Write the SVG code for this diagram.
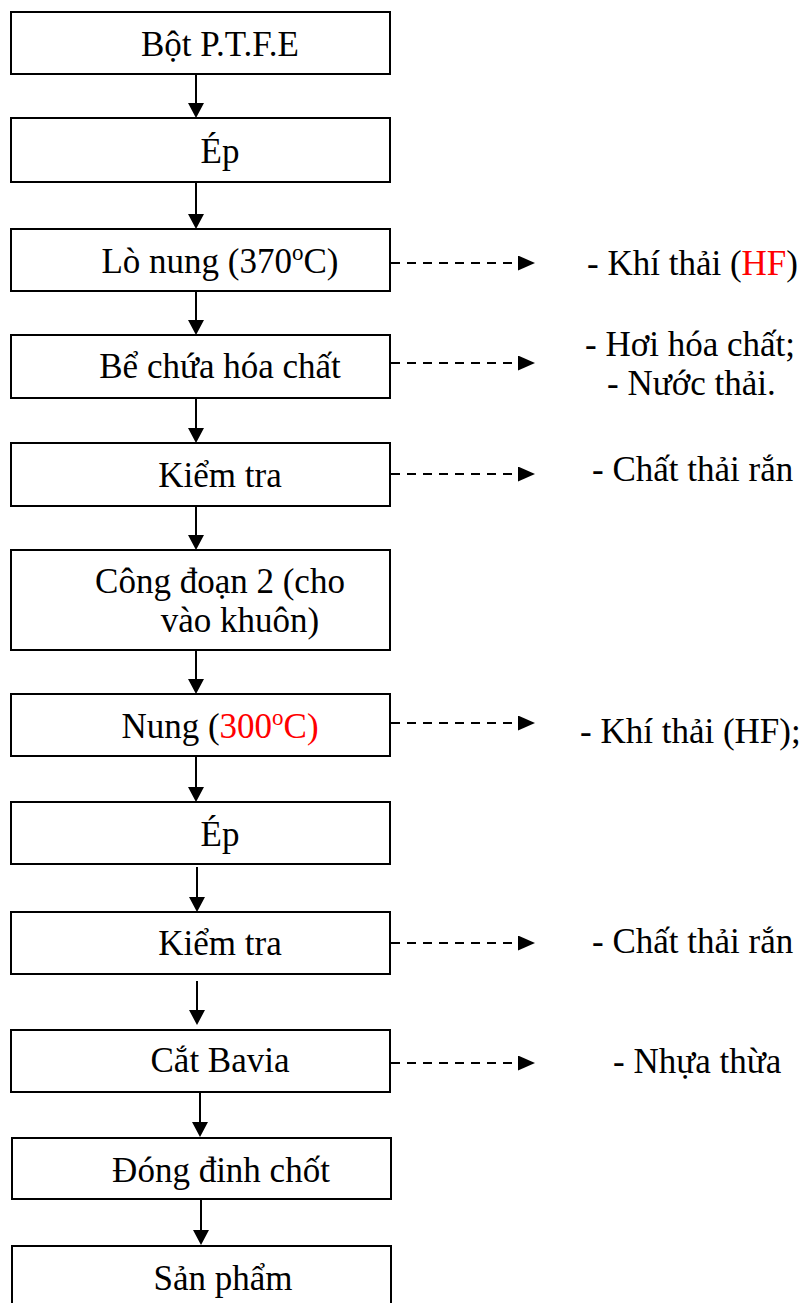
<svg xmlns="http://www.w3.org/2000/svg" width="805" height="1303" viewBox="0 0 805 1303">
  <style>
    .box { fill: #ffffff; stroke: #000000; stroke-width: 2; }
    .lbl { font-family: "Liberation Serif", "Times New Roman", serif; font-size: 35px; fill: #000000; }
    .mid { text-anchor: middle; }
    .red { fill: #ff0000; }
    .flow { stroke: #000000; stroke-width: 2; fill: none; marker-end: url(#headSolid); }
    .waste { stroke: #000000; stroke-width: 2; fill: none; stroke-dasharray: 9 7; marker-end: url(#headSmall); }
  </style>
  <defs>
    <marker id="headSolid" markerUnits="userSpaceOnUse" viewBox="0 0 15 16" markerWidth="15" markerHeight="16" refX="12" refY="8" orient="auto">
      <path d="M0,0 L15,8 L0,16 Z" fill="#000000"/>
    </marker>
    <marker id="headSmall" markerUnits="userSpaceOnUse" viewBox="0 0 17 15" markerWidth="17" markerHeight="15" refX="14" refY="7.5" orient="auto">
      <path d="M0,0 L17,7.5 L0,15 Z" fill="#000000"/>
    </marker>
  </defs>

  <rect width="805" height="1303" fill="#ffffff"/>

  <!-- process steps -->
  <g id="n-bot-ptfe">
    <rect class="box" x="11" y="12" width="379" height="62"/>
    <text class="lbl mid" x="220" y="56">Bột P.T.F.E</text>
  </g>
  <g id="n-ep-1">
    <rect class="box" x="11" y="118" width="379" height="64"/>
    <text class="lbl mid" x="220" y="163">Ép</text>
  </g>
  <g id="n-lo-nung">
    <rect class="box" x="11" y="229" width="379" height="62"/>
    <text class="lbl mid" x="220" y="273">Lò nung (370<tspan font-size="23" dy="-13">o</tspan><tspan dy="13">C)</tspan></text>
  </g>
  <g id="n-be-chua">
    <rect class="box" x="11" y="335" width="379" height="63"/>
    <text class="lbl mid" x="220" y="378">Bể chứa hóa chất</text>
  </g>
  <g id="n-kiem-tra-1">
    <rect class="box" x="11" y="443" width="379" height="63"/>
    <text class="lbl mid" x="220" y="487">Kiểm tra</text>
  </g>
  <g id="n-cong-doan-2">
    <rect class="box" x="11" y="550" width="379" height="100"/>
    <text class="lbl mid" x="220" y="593">Công đoạn 2 (cho</text>
    <text class="lbl mid" x="240" y="632">vào khuôn)</text>
  </g>
  <g id="n-nung">
    <rect class="box" x="11" y="694" width="379" height="62"/>
    <text class="lbl mid" x="220" y="738">Nung (<tspan class="red">300<tspan font-size="23" dy="-13">o</tspan><tspan dy="13">C)</tspan></tspan></text>
  </g>
  <g id="n-ep-2">
    <rect class="box" x="11" y="802" width="379" height="62"/>
    <text class="lbl mid" x="220" y="846">Ép</text>
  </g>
  <g id="n-kiem-tra-2">
    <rect class="box" x="11" y="912" width="379" height="62"/>
    <text class="lbl mid" x="220" y="955">Kiểm tra</text>
  </g>
  <g id="n-cat-bavia">
    <rect class="box" x="11" y="1030" width="379" height="62"/>
    <text class="lbl mid" x="220" y="1072">Cắt Bavia</text>
  </g>
  <g id="n-dong-dinh">
    <rect class="box" x="12" y="1138" width="379" height="61"/>
    <text class="lbl mid" x="221" y="1182">Đóng đinh chốt</text>
  </g>
  <g id="n-san-pham">
    <rect class="box" x="12" y="1246" width="379" height="70"/>
    <text class="lbl mid" x="223" y="1290">Sản phẩm</text>
  </g>

  <!-- waste outputs -->
  <g id="w-khi-thai-1">
    <text class="lbl" x="587" y="275">- Khí thải (<tspan class="red">HF</tspan>)</text>
  </g>
  <g id="w-hoi-hoa-chat">
    <text class="lbl" x="585" y="356">- Hơi hóa chất;</text>
    <text class="lbl" x="607" y="395">- Nước thải.</text>
  </g>
  <g id="w-chat-thai-ran-1">
    <text class="lbl" x="592" y="481">- Chất thải rắn</text>
  </g>
  <g id="w-khi-thai-2">
    <text class="lbl" x="580" y="743">- Khí thải (HF);</text>
  </g>
  <g id="w-chat-thai-ran-2">
    <text class="lbl" x="592" y="953">- Chất thải rắn</text>
  </g>
  <g id="w-nhua-thua">
    <text class="lbl" x="613" y="1073">- Nhựa thừa</text>
  </g>

  <!-- connectors -->
  <g id="connectors">
    <line class="flow" x1="196" y1="74" x2="196" y2="115"/>
    <line class="flow" x1="196" y1="182" x2="196" y2="226"/>
    <line class="flow" x1="196" y1="291" x2="196" y2="332"/>
    <line class="flow" x1="196" y1="398" x2="196" y2="440"/>
    <line class="flow" x1="196" y1="506" x2="196" y2="547"/>
    <line class="flow" x1="196" y1="650" x2="196" y2="691"/>
    <line class="flow" x1="196" y1="756" x2="196" y2="799"/>
    <line class="flow" x1="197" y1="867" x2="197" y2="909"/>
    <line class="flow" x1="197" y1="981" x2="197" y2="1022"/>
    <line class="flow" x1="200" y1="1092" x2="200" y2="1134"/>
    <line class="flow" x1="201" y1="1199" x2="201" y2="1242"/>

    <line class="waste" x1="391" y1="263" x2="532" y2="263"/>
    <line class="waste" x1="391" y1="363" x2="532" y2="363"/>
    <line class="waste" x1="391" y1="474" x2="532" y2="474"/>
    <line class="waste" x1="391" y1="723" x2="532" y2="723"/>
    <line class="waste" x1="391" y1="943" x2="532" y2="943"/>
    <line class="waste" x1="391" y1="1063" x2="532" y2="1063"/>
  </g>
</svg>
